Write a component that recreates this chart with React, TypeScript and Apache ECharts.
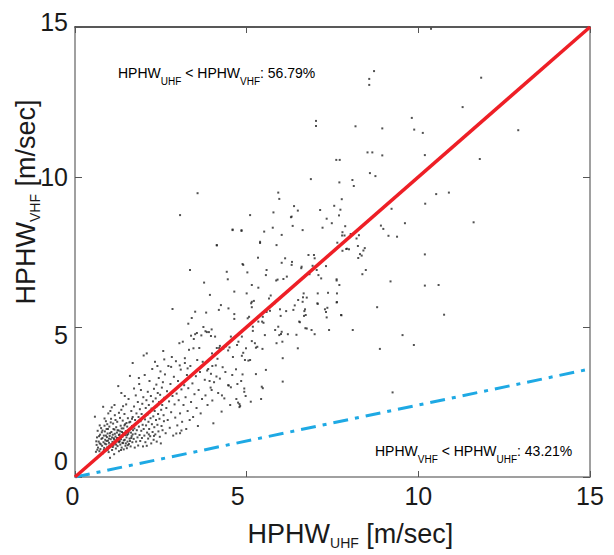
import React, { useEffect, useRef } from "react";
import * as echarts from "echarts";

// axis ticks
const axisMin = 0;
const axisMax = 15;
const axisStep = 5;

// reference lines
const equalityLine = [[0, 0], [15, 15]];
const lowerLine = [[0, 0], [15, 3.6]];

// annotation texts
const upperNote = "{m|HPHW}{s|UHF}{m| < HPHW}{s|VHF}{m|: 56.79%}";
const lowerNote = "{m|HPHW}{s|VHF}{m| < HPHW}{s|UHF}{m|: 43.21%}";

// scatter samples (HPHW_UHF, HPHW_VHF)
const denseCore = [
  [0.58,2.01],[0.63,1.07],[0.61,0.84],[0.64,1.32],[0.67,0.98],[0.69,1.18],[0.66,1.54],[0.71,0.86],[0.73,1.41],[0.72,1.12],
  [0.76,1.63],[0.74,0.93],[0.77,1.27],[0.79,1.04],[0.78,1.49],[0.82,2.34],[0.81,0.79],[0.83,1.16],[0.84,1.38],[0.86,1.71],
  [0.85,0.97],[0.88,1.24],[0.87,1.52],[0.89,0.88],[0.91,1.09],[0.9,1.86],[0.93,1.33],[0.92,1.6],[0.94,0.99],[0.96,1.21],
  [0.95,1.45],[0.97,2.12],[0.98,0.83],[0.99,1.14],[1.01,1.37],[1.0,1.68],[1.02,0.64],[1.03,1.02],[1.04,1.26],[1.05,1.94],
  [1.06,1.5],[1.07,2.32],[1.08,0.9],[1.09,1.17],[1.1,1.41],[1.11,1.78],[1.12,1.06],[1.13,1.29],[1.14,0.76],[1.15,1.58],
  [1.16,2.06],[1.17,1.12],[1.18,1.35],[1.19,0.95],[1.2,1.66],[1.21,1.22],[1.22,1.48],[1.23,1.84],[1.24,1.03],[1.25,1.3],
  [1.26,3.03],[1.27,1.55],[1.28,0.86],[1.29,1.16],[1.3,1.42],[1.31,1.97],[1.32,1.08],[1.33,1.71],[1.34,1.26],[1.35,2.24],
  [1.36,0.98],[1.37,1.5],[1.38,1.34],[1.39,1.88],[1.4,1.13],[1.41,1.62],[1.42,0.92],[1.43,1.4],[1.44,2.1],[1.45,1.24],
  [1.46,1.76],[1.47,1.04],[1.48,1.53],[1.49,2.42],[1.5,1.32],[1.51,0.96],[1.52,1.68],[1.53,1.18],[1.54,1.96],[1.55,1.44],
  [1.56,2.6],[1.57,1.1],[1.58,1.58],[1.59,1.28],[1.6,3.37],[1.61,1.84],[1.62,1.02],[1.63,1.48],[1.64,2.2],[1.65,1.36],
  [1.66,1.7],[1.67,1.16],[1.68,2.0],[1.69,1.56]
];

const coreFill = [
  [0.62,1.19],[0.65,0.91],[0.7,1.36],[0.75,1.09],[0.8,1.3],[0.8,1.55],[0.84,0.9],[0.87,1.11],[0.9,1.38],[0.92,1.2],
  [0.95,0.9],[0.96,1.6],[0.99,1.28],[1.0,1.05],[1.02,1.46],[1.04,1.82],[1.06,1.1],[1.08,1.32],[1.1,1.0],[1.12,1.6],
  [1.14,1.25],[1.16,1.44],[1.18,1.9],[1.2,1.08],[1.22,1.3],[1.24,1.56],[1.26,1.18],[1.28,1.4],[1.3,1.2],[1.32,1.52],
  [1.34,0.9],[1.36,1.62],[1.38,1.14],[1.4,1.46],[1.42,1.22],[1.44,1.72],[1.46,1.4],[1.48,1.12],[1.5,1.8],[1.52,1.4],
  [1.54,1.06],[1.56,1.5],[1.58,1.82],[1.6,1.2],[1.62,1.6],[1.64,1.3],[1.66,1.94],[1.68,1.42],[0.72,1.72],[0.86,1.95],
  [0.94,1.76],[1.03,2.2],[1.15,2.4],[1.28,2.14],[1.4,2.36],[1.45,2.7],[1.35,2.8],[1.68,3.8],[1.72,2.95],[1.86,3.3]
];

const lowerBand = [
  [1.71,1.27],[1.72,2.35],[1.73,1.62],[1.74,0.98],[1.75,1.9],[1.76,1.44],[1.77,2.72],[1.78,1.18],[1.79,2.12],[1.8,1.56],
  [1.81,1.8],[1.82,1.32],[1.83,2.5],[1.84,1.05],[1.85,2.0],[1.86,1.68],[1.87,3.1],[1.88,1.4],[1.89,2.26],[1.9,1.2],
  [1.91,1.86],[1.92,2.9],[1.93,1.54],[1.94,2.1],[1.95,1.3],[1.96,2.44],[1.97,1.74],[1.98,1.02],[1.99,2.66],[2.0,1.6],
  [2.01,2.02],[2.02,1.38],[2.03,3.4],[2.04,1.92],[2.05,1.16],[2.06,2.3],[2.07,1.72],[2.08,2.56],[2.09,4.12],[2.09,1.04],
  [2.1,1.48],[2.11,2.08],[2.12,2.84],[2.13,1.28],[2.14,1.84],[2.15,2.4],[2.16,1.6],[2.17,3.2],[2.18,2.16],[2.19,1.36],
  [2.2,1.96],[2.21,2.7],[2.22,1.12],[2.23,2.28],[2.24,1.76],[2.25,3.6],[2.26,1.5],[2.27,2.52],[2.28,2.02],[2.29,1.24],
  [2.3,2.94],[2.31,1.66],[2.32,2.2],[2.33,3.84],[2.34,1.42],[2.35,2.62],[2.36,1.9],[2.37,3.08],[2.38,1.18],[2.39,2.36],
  [2.4,1.74],[2.41,2.8],[2.42,2.1],[2.43,1.52],[2.44,3.3],[2.45,2.5],[2.46,1.94],[2.47,1.34],[2.48,2.74],[2.49,3.52],
  [2.5,1.12],[2.51,2.24],[2.52,1.7],[2.53,2.98],[2.54,2.4],[2.55,1.56],[2.56,3.16],[2.57,4.2],[2.58,2.06],[2.59,1.86],
  [2.6,2.64],[2.15,1.42],[2.3,1.37],[2.0,4.05],[2.4,3.7]
];

const midCloud = [
  [2.62,3.42],[2.64,1.46],[2.66,2.3],[2.68,2.86],[2.7,1.9],[2.72,3.7],[2.74,2.52],[2.76,1.64],[2.78,3.1],[2.8,2.16],
  [2.82,4.0],[2.84,5.6],[2.84,2.7],[2.86,1.38],[2.88,3.34],[2.9,2.42],[2.92,1.98],[2.94,3.86],[2.96,2.78],[2.98,1.72],
  [3.0,3.2],[3.02,2.56],[3.04,4.46],[3.06,1.46],[3.06,2.12],[3.08,3.58],[3.1,2.92],[3.12,1.84],[3.14,4.51],[3.16,2.4],
  [3.18,3.06],[3.2,3.96],[3.22,2.66],[3.24,1.6],[3.26,3.4],[3.28,2.2],[3.3,5.11],[3.3,2.96],[3.32,4.24],[3.34,1.9],
  [3.36,3.7],[3.38,2.5],[3.4,5.3],[3.42,3.12],[3.44,2.0],[3.46,4.6],[3.48,2.76],[3.5,5.51],[3.5,4.76],[3.52,3.36],
  [3.54,2.3],[3.56,3.9],[3.58,1.7],[2.6,3.92],[2.8,3.67],[3.2,3.8],[3.28,3.62],[3.05,3.72],[2.95,1.45],[3.1,1.55],
  [3.38,4.71],[3.45,4.29],[3.35,6.9],[3.06,8.73],[3.57,9.46]
];

const upperCloud = [
  [3.6,2.9],[3.62,4.3],[3.64,3.5],[3.66,2.12],[3.7,2.6],[3.72,3.84],[3.74,5.0],[3.76,6.48],[3.78,3.24],[3.8,2.72],
  [3.82,5.48],[3.84,4.83],[3.86,2.4],[3.88,3.6],[3.9,4.83],[3.93,6.07],[3.95,2.98],[3.96,3.44],[3.98,4.92],[3.99,4.12],
  [4.0,2.55],[4.03,1.79],[4.05,3.16],[4.08,4.68],[4.1,3.72],[4.13,7.72],[4.15,3.94],[4.17,2.8],[4.19,5.57],[4.2,4.3],
  [4.22,3.28],[4.25,5.73],[4.27,2.18],[4.3,3.66],[4.32,4.28],[4.35,2.62],[4.38,3.5],[4.4,4.36],[4.42,6.84],[4.45,6.59],
  [4.46,3.06],[4.47,5.62],[4.5,4.32],[4.52,2.4],[4.54,4.68],[4.54,2.99],[4.56,4.57],[4.58,3.4],[3.55,4.8],[3.68,4.72],
  [3.8,4.86],[3.96,4.7],[4.13,4.3],[4.22,4.37],[4.46,4.22],[4.6,4.0],[4.72,4.4],[4.95,3.9],[3.85,3.55],[3.92,3.2],
  [4.0,3.7],[4.12,3.35],[3.98,2.9],[4.28,2.72],[4.48,3.05],[4.7,2.6],[4.84,3.2],[4.97,2.7],[4.75,2.48]
];

const wideCloud = [
  [4.59,8.23],[4.64,6.18],[4.64,5.43],[4.64,5.27],[4.69,3.59],[4.73,3.1],[4.76,4.51],[4.79,2.43],[4.79,2.33],[4.81,2.37],
  [4.85,8.23],[4.86,4.68],[4.86,4.04],[4.88,3.42],[4.88,7.1],[4.9,7.07],[4.9,4.14],[4.93,2.95],[4.93,2.84],[4.98,4.29],
  [5.0,6.12],[5.02,6.82],[5.03,5.29],[5.05,3.88],[5.07,5.34],[5.1,3.9],[5.1,8.73],[5.12,2.51],[5.13,5.79],[5.15,6.4],
  [5.15,5.84],[5.15,5.66],[5.15,4.53],[5.18,5.01],[5.18,4.87],[5.21,5.87],[5.24,4.46],[5.27,4.31],[5.27,3.43],[5.31,4.34],
  [5.33,7.31],[5.34,6.31],[5.34,5.18],[5.39,7.84],[5.42,2.6],[5.44,3.01],[5.45,5.18],[5.46,4.27],[5.47,5.34],[5.47,2.96],
  [5.49,5.14],[5.51,8.18],[5.53,4.73],[5.56,6.73],[5.56,3.57],[5.58,6.9],[5.58,5.5],[5.65,5.95],[5.68,5.54],[5.7,6.05],
  [5.76,8.31],[5.78,8.82],[5.81,5.79],[5.83,4.9],[5.87,7.73],[5.87,4.46],[5.9,6.58],[5.92,9.48],[5.92,5.01],[5.95,9.27],
  [5.95,4.73],[5.97,5.59],[5.99,5.37],[6.0,4.77],[6.02,8.07],[6.02,7.14],[6.02,4.84],[6.04,4.51],[6.05,3.96],[6.05,3.18],
  [6.07,6.6],[6.12,7.29],[6.15,5.53],[6.17,6.68],[6.2,4.76],[6.29,8.66],[6.31,7.07],[6.31,8.68],[6.32,7.17],[6.34,8.37],
  [6.36,5.57],[6.38,9.03],[6.4,5.72],[6.45,4.74],[6.49,8.88],[6.49,4.29],[6.5,5.9],[6.53,5.18],[6.55,5.16],[6.59,6.96],
  [6.6,7.01],[6.63,8.23],[6.63,5.84],[6.64,5.99],[6.66,6.12],[4.13,7.73],[4.59,8.25],[4.85,8.2],[5.39,7.8],[5.86,6.55]
];

const outerCloud = [
  [6.67,5.37],[6.68,5.53],[6.7,5.59],[6.71,4.96],[6.72,5.4],[6.75,5.98],[6.75,4.95],[6.8,7.4],[6.83,6.76],[6.87,9.93],
  [6.89,4.9],[6.92,7.04],[6.96,7.4],[6.98,7.29],[6.98,4.76],[7.02,11.87],[7.02,11.7],[7.04,6.9],[7.06,5.79],[7.07,6.12],
  [7.07,5.77],[7.09,6.73],[7.14,8.9],[7.17,6.62],[7.21,8.31],[7.28,5.59],[7.31,7.03],[7.31,5.5],[7.33,8.61],[7.33,5.32],
  [7.35,5.64],[7.37,6.14],[7.4,4.9],[7.48,8.46],[7.55,9.04],[7.61,10.57],[7.62,6.59],[7.62,6.55],[7.62,5.82],[7.63,6.12],
  [7.63,5.83],[7.64,7.81],[7.69,8.72],[7.7,9.82],[7.7,6.4],[7.71,10.57],[7.73,8.91],[7.75,5.4],[7.76,5.39],[7.77,9.26],
  [7.78,8.05],[7.79,8.16],[7.79,7.54],[7.85,8.05],[7.87,8.36],[7.9,7.6],[7.92,7.61],[7.98,7.59],[8.03,8.1],[8.08,9.9],
  [8.09,4.9],[8.12,9.7],[8.17,11.69],[8.24,7.7],[8.27,8.06],[8.3,7.43],[8.35,7.38],[8.37,6.76],[8.44,7.63],[8.47,6.9],
  [8.2,7.95],[8.25,7.3],[8.4,7.55]
];

const outliers = [
  [8.52,10.82],[8.57,13.27],[8.57,13.07],[8.59,10.13],[8.66,10.82],[8.71,13.53],[8.75,10.03],[8.8,5.66],[8.88,4.27],[8.91,8.38],
  [8.95,11.62],[8.95,10.72],[8.98,8.27],[9.13,8.04],[9.19,6.52],[9.22,8.94],[9.25,2.82],[9.38,8.01],[9.54,4.73],[9.61,8.46],
  [9.81,11.97],[9.87,4.4],[9.88,11.58],[10.13,11.47],[10.19,10.73],[10.19,7.42],[10.19,6.38],[10.2,9.11],[10.37,14.94],[10.52,9.43],
  [10.59,6.4],[10.75,5.41],[10.89,9.48],[11.29,12.33],[11.61,8.49],[11.79,10.6],[11.83,13.31],[12.91,11.56]
];

const FONT = "'Liberation Sans', Arial, Helvetica, sans-serif";

export default function App() {
  const ref = useRef<HTMLDivElement>(null);

  useEffect(() => {
    document.body.style.margin = "0";
    const chart = echarts.init(ref.current!, null, { renderer: "svg" });
    const points = [
      ...denseCore, ...coreFill, ...lowerBand, ...midCloud,
      ...upperCloud, ...wideCloud, ...outerCloud, ...outliers,
    ];
    const axisGray = "#808080";
    const nameRich = {
      m: { fontSize: 27, fontFamily: FONT, color: "#1a1a1a", lineHeight: 30, verticalAlign: "top" },
      s: { fontSize: 14, fontFamily: FONT, color: "#1a1a1a", lineHeight: 16, padding: [16, 0, 0, 0], verticalAlign: "top" },
    };
    const noteRich = {
      m: { fontSize: 14, fontFamily: FONT, color: "#2a2a2a", lineHeight: 16, verticalAlign: "top" },
      s: { fontSize: 10, fontFamily: FONT, color: "#2a2a2a", lineHeight: 11, padding: [10, 0, 0, 0], verticalAlign: "top" },
    };
    const baseAxis = {
      type: "value",
      min: axisMin,
      max: axisMax,
      interval: axisStep,
      splitLine: { show: false },
    };
    chart.setOption({
      animation: false,
      backgroundColor: "#ffffff",
      grid: { left: 75, top: 27, width: 515, height: 450, containLabel: false, outerBoundsMode: "none" },
      xAxis: [
        {
          ...baseAxis,
          position: "bottom",
          name: "{m|HPHW}{s|UHF}{m| [m/sec]}",
          nameLocation: "middle",
          nameGap: 43,
          nameMoveOverlap: false,
          nameTextStyle: { rich: nameRich, padding: [0, 0, 0, 36] },
          axisLine: { show: true, onZero: false, lineStyle: { color: axisGray, width: 1.5 } },
          axisTick: { show: true, inside: true, length: 6, lineStyle: { color: "#555", width: 1 } },
          axisLabel: {
            margin: 6,
            fontSize: 25,
            fontFamily: FONT,
            color: "#1a1a1a",
            formatter: (v: number) => (v === 5 ? "{f|5}" : v === 0 ? "{z|0}" : String(v)),
            rich: {
              f: { fontSize: 25, fontFamily: FONT, color: "#1a1a1a", padding: [0, 18, 0, 0] },
              z: { fontSize: 25, fontFamily: FONT, color: "#1a1a1a", padding: [0, 5, 0, 0] },
            },
          },
        },
        {
          ...baseAxis,
          position: "top",
          axisLine: { show: true, onZero: false, lineStyle: { color: "#222", width: 1.5 } },
          axisTick: { show: true, inside: true, length: 6, lineStyle: { color: "#555", width: 1 } },
          axisLabel: { show: false },
        },
      ],
      yAxis: [
        {
          ...baseAxis,
          position: "left",
          name: "{m|HPHW}{s|VHF}{m| [m/sec]}",
          nameLocation: "middle",
          nameRotate: 90,
          nameGap: 33,
          nameMoveOverlap: false,
          nameTextStyle: { rich: nameRich, padding: [0, 0, 0, 100] },
          axisLine: { show: true, onZero: false, lineStyle: { color: axisGray, width: 1.5 } },
          axisTick: { show: true, inside: true, length: 7, lineStyle: { color: "#555", width: 1 } },
          axisLabel: {
            margin: 7,
            fontSize: 25,
            fontFamily: FONT,
            color: "#1a1a1a",
            formatter: (v: number) => `{t${v}|${v}}`,
            rich: {
              t0: { fontSize: 25, fontFamily: FONT, color: "#1a1a1a", padding: [0, 0, 32, 0] },
              t5: { fontSize: 25, fontFamily: FONT, color: "#1a1a1a", padding: [16, 0, 0, 0] },
              t10: { fontSize: 25, fontFamily: FONT, color: "#1a1a1a" },
              t15: { fontSize: 25, fontFamily: FONT, color: "#1a1a1a", padding: [0, 0, 10, 0] },
            },
          },
        },
        {
          ...baseAxis,
          position: "right",
          axisLine: { show: true, onZero: false, lineStyle: { color: axisGray, width: 1.5 } },
          axisTick: { show: true, inside: true, length: 7, lineStyle: { color: "#555", width: 1 } },
          axisLabel: { show: false },
        },
      ],
      series: [
        {
          type: "scatter",
          data: points,
          symbol: "rect",
          symbolSize: 2,
          itemStyle: { color: "#262626" },
          z: 2,
          silent: true,
        },
        {
          type: "line",
          data: lowerLine,
          symbol: "none",
          lineStyle: { color: "#1ea9e4", width: 3, type: [15, 7, 4, 7] },
          z: 3,
          silent: true,
        },
        {
          type: "line",
          data: equalityLine,
          symbol: "none",
          lineStyle: { color: "#ee1f26", width: 3.5 },
          z: 4,
          silent: true,
        },
      ],
      graphic: [
        {
          type: "text",
          left: 118,
          top: 66,
          style: { text: upperNote, rich: noteRich },
        },
        {
          type: "text",
          left: 375,
          top: 444,
          style: { text: lowerNote, rich: noteRich },
        },
      ],
    });
    return () => chart.dispose();
  }, []);

  return <div ref={ref} style={{ width: 614, height: 555 }} />;
}
